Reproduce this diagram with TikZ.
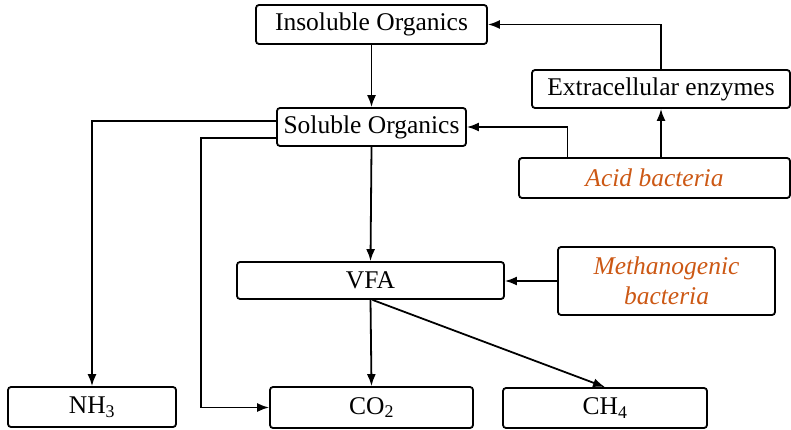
\documentclass[tikz,border=0pt]{standalone}
\usepackage{fontspec}
\setmainfont{Liberation Serif}
\usetikzlibrary{arrows.meta}
\definecolor{bactcol}{RGB}{204,88,20}
\begin{document}
\begin{tikzpicture}[x=1pt,y=-1pt,
  box/.style={draw, line width=1.8pt, rounded corners=3pt, inner sep=0pt,
    font=\fontsize{25.5}{30}\selectfont, align=center},
  bact/.style={box, text=bactcol, font=\fontsize{25.5}{30}\selectfont\itshape},
  flow/.style={line width=1.8pt, -{Latex[length=12pt,width=9pt]}}]
  \useasboundingbox (0,0) rectangle (791,430);

  % process boxes
  \node[box, minimum width=231pt, minimum height=39pt] (ins)  at (371.5,24.5) {Insoluble Organics};
  \node[box, minimum width=258pt, minimum height=38pt] (ext)  at (661,89)    {Extracellular enzymes};
  \node[box, minimum width=189pt, minimum height=38pt] (sol)  at (371.5,127)  {Soluble Organics};
  \node[bact, minimum width=271pt, minimum height=40pt] (acid) at (654.5,178) {Acid bacteria};
  \node[box, minimum width=267pt, minimum height=37pt] (vfa)  at (370.5,280.5) {VFA};
  \node[bact, minimum width=217pt, minimum height=68pt] (meth) at (666.5,281) {Methanogenic\\bacteria};
  \node[box, minimum width=168pt, minimum height=40pt] (nh3)  at (92,407)    {NH\textsubscript{3}};
  \node[box, minimum width=203pt, minimum height=41pt] (co2)  at (371.5,407.5) {CO\textsubscript{2}};
  \node[box, minimum width=204pt, minimum height=40pt] (ch4)  at (605,408)   {CH\textsubscript{4}};

  % connectors
  \draw[flow] (ins.south) -- (sol.north);
  \draw[flow] (ext.north) |- (ins.east);
  \draw[flow] (acid.north -| ext.south) -- (ext.south);
  \draw[flow] ([xshift=-87pt]acid.north) |- (sol.east);
  \draw[flow] ([yshift=6pt]sol.west) -| (nh3.north);
  \draw[flow] ([yshift=-11pt]sol.west) -- ++(-75,0) |- (co2.west);
  \draw[flow] (sol.south) -- (vfa.north);
  \draw[flow] (meth.west) -- (vfa.east |- meth.west);
  \draw[flow] (vfa.south) -- (co2.north);
  \draw[flow] ([xshift=2pt]vfa.south) -- (ch4.north);
\end{tikzpicture}
\end{document}
